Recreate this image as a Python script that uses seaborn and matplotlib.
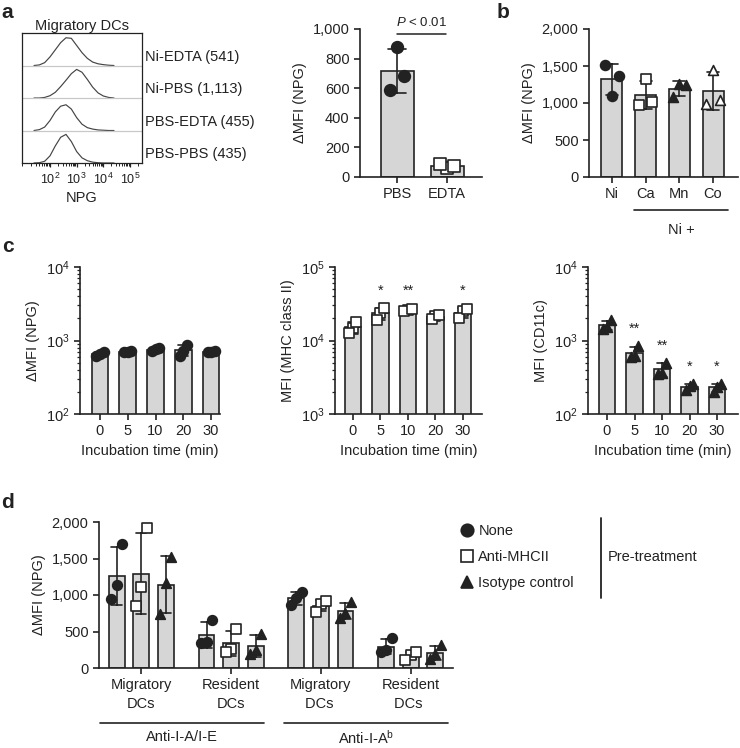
import numpy as np
import pandas as pd
import matplotlib
matplotlib.use('Agg')
import matplotlib.pyplot as plt
import seaborn as sns
from matplotlib.lines import Line2D
from matplotlib.ticker import LogLocator, NullFormatter, FuncFormatter, FixedLocator

# ---- data ----
# a: flow histograms (log10 NPG positions, normalised counts), top to bottom
hist_logx = [1.4, 1.6, 1.8, 2.0, 2.2, 2.4, 2.6, 2.8, 3.0, 3.2, 3.4, 3.6, 3.8, 4.0, 4.2, 4.4]
hist_labels = ['Ni-EDTA (541)', 'Ni-PBS (1,113)', 'PBS-EDTA (455)', 'PBS-PBS (435)']
hist_ni_edta = [0, 0.02, 0.1, 0.3, 0.55, 0.8, 0.97, 0.95, 0.7, 0.45, 0.25, 0.12, 0.06, 0.03, 0.01, 0]
hist_ni_pbs = [0, 0, 0.02, 0.08, 0.2, 0.4, 0.62, 0.85, 1.0, 0.9, 0.65, 0.38, 0.18, 0.07, 0.02, 0]
hist_pbs_edta = [0, 0.03, 0.12, 0.35, 0.65, 0.85, 0.9, 0.75, 0.45, 0.22, 0.1, 0.05, 0.02, 0.01, 0, 0]
hist_pbs_pbs = [0, 0.01, 0.06, 0.25, 0.6, 0.9, 1.0, 0.75, 0.4, 0.18, 0.08, 0.03, 0.01, 0, 0, 0]

# a: bar chart (points ordered centre, left, right)
a_cats = ['PBS', 'EDTA']
a_pbs = [880, 590, 680]
a_edta = [60, 90, 75]

# b
b_cats = ['Ni', 'Ca', 'Mn', 'Co']
b_ni = [1090, 1510, 1360]
b_ca = [1320, 970, 1020]
b_mn = [1260, 1080, 1240]
b_co = [1450, 990, 1040]

# c
c_cats = ['0', '5', '10', '20', '30']
c_npg = [[660, 620, 690], [700, 690, 710], [760, 720, 780], [730, 620, 880], [700, 690, 710]]
c_mhc = [[15000, 12500, 18000], [23500, 19000, 27500], [26000, 25500, 27000],
         [21500, 19500, 22500], [25000, 20000, 27000]]
c_cd11c = [[1550, 1450, 1900], [610, 590, 850], [360, 350, 500], [240, 210, 255], [235, 200, 255]]
c_mhc_stars = ['', '*', '**', '', '*']
c_cd11c_stars = ['', '**', '**', '*', '*']

# d
d_cells = ['Migratory\nDCs', 'Resident\nDCs', 'Migratory\nDCs ', 'Resident\nDCs ']
d_treat = ['None', 'Anti-MHCII', 'Isotype control']
d_none = [[1140, 940, 1700], [355, 340, 660], [960, 860, 1040], [250, 225, 405]]
d_anti = [[1110, 850, 1920], [265, 220, 530], [880, 765, 920], [175, 115, 215]]
d_iso = [[1160, 745, 1520], [245, 185, 470], [760, 680, 905], [190, 125, 310]]
d_groups = ['Anti-I-A/I-E', 'Anti-I-A$^{\\mathregular{b}}$']

# ---- style ----
sns.set_theme(style='ticks')
plt.rcParams['font.family'] = ['Liberation Sans', 'DejaVu Sans']
plt.rcParams.update({
    'font.size': 10.5, 'axes.labelsize': 10.5, 'xtick.labelsize': 10.5, 'ytick.labelsize': 10.5,
    'axes.linewidth': 1.2, 'axes.edgecolor': '#222222',
    'xtick.major.width': 1.2, 'ytick.major.width': 1.2, 'xtick.major.size': 4.5, 'ytick.major.size': 4.5,
    'xtick.minor.width': 0.9, 'ytick.minor.width': 0.9, 'xtick.minor.size': 2.5, 'ytick.minor.size': 2.5,
    'xtick.major.pad': 3, 'ytick.major.pad': 3,
    'mathtext.fontset': 'custom', 'mathtext.rm': 'Liberation Sans', 'mathtext.it': 'Liberation Sans:italic',
    'text.color': '#222222', 'axes.labelcolor': '#222222', 'xtick.color': '#222222', 'ytick.color': '#222222',
})
BAR = '#d6d6d6'
INK = '#222222'

W, H = 740, 748
fig = plt.figure(figsize=(W / 100, H / 100), dpi=100)


def px_axes(l, r, t, b):
    return fig.add_axes([l / W, 1 - b / H, (r - l) / W, (b - t) / H])


comma = FuncFormatter(lambda v, p: f'{int(v):,}')


def bars(ax, cats, values, markers, faces, width, spread, size):
    df = pd.DataFrame({'cat': np.repeat(cats, 3), 'val': np.concatenate(values)})
    sns.barplot(data=df, x='cat', y='val', order=cats, errorbar='sd', color=BAR, saturation=1,
                width=width, edgecolor=INK, linewidth=1.2, capsize=0.35,
                err_kws={'color': INK, 'linewidth': 1.2}, ax=ax)
    for i, pts in enumerate(values):
        ax.scatter(i + np.array([0, -spread, spread]), pts, marker=markers[i], s=size,
                   facecolor=faces[i], edgecolor=INK, linewidth=1.2, zorder=5, clip_on=False)
    ax.set_xlabel('')
    sns.despine(ax=ax)


def log_axis(ax, lo, hi):
    ax.set_yscale('log')
    ax.set_ylim(lo, hi)
    ax.yaxis.set_major_locator(LogLocator(base=10, numticks=10))
    ax.yaxis.set_minor_locator(LogLocator(base=10, subs=np.arange(2, 10), numticks=20))
    ax.yaxis.set_minor_formatter(NullFormatter())


# ---- panel a: histograms ----
ah = px_axes(22, 142, 33, 163)
traces = [hist_ni_edta, hist_ni_pbs, hist_pbs_edta, hist_pbs_pbs]
xs = 10 ** np.array(hist_logx)
for k, tr in enumerate(traces):
    base = 3 - k
    ah.plot(xs, base + 0.88 * np.array(tr), color='#444444', lw=0.85)
    if k > 0:
        ah.axhline(base + 1, color='#c8c8c8', lw=0.9)
ah.set_xscale('log')
ah.set_xlim(10 ** 0.95, 10 ** 5.45)
ah.set_ylim(0, 4)
ah.set_yticks([])
ah.xaxis.set_major_locator(FixedLocator([1e2, 1e3, 1e4, 1e5]))
ah.xaxis.set_minor_locator(LogLocator(base=10, subs=np.arange(2, 10), numticks=20))
ah.xaxis.set_minor_formatter(NullFormatter())
ah.tick_params(axis='x', which='major', length=3, width=0.9, labelsize=9)
ah.tick_params(axis='x', which='minor', length=1.8, width=0.7)
for s in ah.spines.values():
    s.set_linewidth(0.9)
ah.set_title('Migratory DCs', fontsize=10.5, pad=2)
ah.set_xlabel('NPG', labelpad=3)
for k, lab in enumerate(hist_labels):
    ah.text(1.025, (3 - k + 0.06) / 4, lab, transform=ah.transAxes, va='bottom', ha='left', fontsize=10.5)

# ---- panel a: bars ----
aa = px_axes(360, 482, 29, 177)
bars(aa, a_cats, [a_pbs, a_edta], ['o', 's'], [INK, 'white'], 0.66, 0.14, 70)
aa.set_ylim(0, 1000)
aa.set_xlim(-0.74, 1.7)
aa.yaxis.set_major_formatter(comma)
aa.set_ylabel('ΔMFI (NPG)')
aa.plot([0, 0.98], [966, 966], color=INK, lw=1.1, clip_on=False)
aa.text(0.5, 1000, '$P$ < 0.01', ha='center', va='bottom', fontsize=9.5)

# ---- panel b ----
ab = px_axes(589, 738, 29, 177)
bars(ab, b_cats, [b_ni, b_ca, b_mn, b_co], ['o', 's', '^', '^'], [INK, 'white', INK, 'white'],
     0.62, 0.2, 50)
ab.set_ylim(0, 2000)
ab.set_xlim(-0.68, 3.74)
ab.yaxis.set_major_formatter(comma)
ab.set_ylabel('ΔMFI (NPG)')
ab.plot([0.65, 3.44], [-0.223, -0.223], color=INK, lw=1.2, clip_on=False,
        transform=ab.get_xaxis_transform())
ab.text(2.05, -0.31, 'Ni +', ha='center', va='top', transform=ab.get_xaxis_transform())

# ---- panel c ----
c1 = px_axes(80, 220, 267, 414)
bars(c1, c_cats, c_npg, ['o'] * 5, [INK] * 5, 0.6, 0.13, 50)
log_axis(c1, 1e2, 1e4)
c1.set_xlim(-0.72, 4.32)
c1.set_ylabel('ΔMFI (NPG)')
c1.set_xlabel('Incubation time (min)')

c2 = px_axes(335, 482, 267, 414)
bars(c2, c_cats, c_mhc, ['s'] * 5, ['white'] * 5, 0.6, 0.13, 55)
log_axis(c2, 1e3, 1e5)
c2.set_xlim(-0.65, 4.69)
c2.set_ylabel('MFI (MHC class II)')
c2.set_xlabel('Incubation time (min)')
for i, st in enumerate(c_mhc_stars):
    if st:
        c2.text(i, 1.75 * max(c_mhc[i]), st, ha='center', va='center', fontsize=10.5)

c3 = px_axes(588, 738, 267, 414)
bars(c3, c_cats, c_cd11c, ['^'] * 5, [INK] * 5, 0.6, 0.13, 50)
log_axis(c3, 1e2, 1e4)
c3.set_xlim(-0.69, 4.76)
c3.set_ylabel('MFI (CD11c)')
c3.set_xlabel('Incubation time (min)')
for i, st in enumerate(c_cd11c_stars):
    if st:
        c3.text(i, 1.7 * max(c_cd11c[i]), st, ha='center', va='center', fontsize=10.5)

# ---- panel d ----
ad = px_axes(99, 453, 522, 668)
rows = []
for t, series in zip(d_treat, [d_none, d_anti, d_iso]):
    for c, pts in zip(d_cells, series):
        for v in pts:
            rows.append((c, t, v))
dfd = pd.DataFrame(rows, columns=['cell', 'treat', 'val'])
sns.barplot(data=dfd, x='cell', y='val', hue='treat', order=d_cells, hue_order=d_treat,
            errorbar='sd', palette=[BAR] * 3, saturation=1, width=0.82, gap=0.35,
            edgecolor=INK, linewidth=1.2, capsize=0.35, err_kws={'color': INK, 'linewidth': 1.2},
            legend=False, ax=ad)
d_marks = [('o', INK), ('s', 'white'), ('^', INK)]
slot = 0.82 / 3
for h, series in enumerate([d_none, d_anti, d_iso]):
    m, fc = d_marks[h]
    for i, pts in enumerate(series):
        ad.scatter(i + (h - 1) * slot + np.array([0, -0.06, 0.06]), pts, marker=m, s=48,
                   facecolor=fc, edgecolor=INK, linewidth=1.2, zorder=5)
ad.set_ylim(0, 2000)
ad.set_xlim(-0.47, 3.47)
ad.yaxis.set_major_formatter(comma)
ad.set_ylabel('ΔMFI (NPG)')
ad.set_xlabel('')
ad.set_xticks(range(4))
ad.set_xticklabels(d_cells, linespacing=1.4)
sns.despine(ax=ad)
xt = ad.get_xaxis_transform()
for (x0, x1), g in zip([(-0.456, 1.367), (1.589, 3.41)], d_groups):
    ad.plot([x0, x1], [-0.377, -0.377], color=INK, lw=1.2, clip_on=False, transform=xt)
    ad.text((x0 + x1) / 2, -0.475, g, ha='center', va='center', transform=xt)

# legend for d
handles = [Line2D([], [], ls='none', marker=m, markersize=9, markerfacecolor=fc,
                  markeredgecolor=INK, markeredgewidth=1.2) for m, fc in d_marks]
fig.legend(handles, d_treat, loc='center left', bbox_to_anchor=(452 / W, 1 - 557 / H),
           frameon=False, handlelength=1.0, handletextpad=0.3, labelspacing=0.85,
           borderpad=0, fontsize=10.5)
fig.add_artist(Line2D([601 / W, 601 / W], [1 - 518 / H, 1 - 598 / H], color=INK, lw=1.3))
fig.text(608 / W, 1 - 557 / H, 'Pre-treatment', ha='left', va='center', fontsize=10.5)

# panel letters
for lab, x, y in [('a', 7, 12), ('b', 503, 12), ('c', 8, 247), ('d', 8, 502)]:
    fig.text(x / W, 1 - y / H, lab, fontsize=15, fontweight='bold', ha='center', va='center')

fig.savefig('out.png', dpi=100)
